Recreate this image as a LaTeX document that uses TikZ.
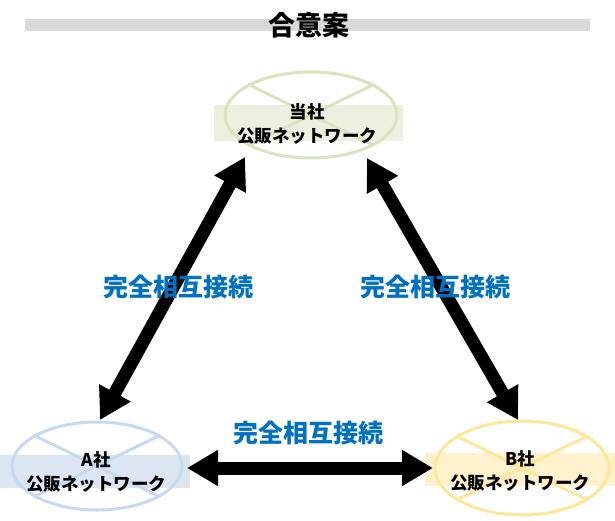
\documentclass[tikz,border=0pt]{standalone}
\usepackage{fontspec}
\setmainfont{Noto Sans CJK JP}
\usetikzlibrary{shapes.geometric,arrows.meta,calc}
\definecolor{titlegray}{HTML}{D9D9D9}
\definecolor{lblblue}{HTML}{0070C0}
\definecolor{grline}{HTML}{D7E4BD}
\definecolor{grband}{HTML}{EBF1DE}
\definecolor{blline}{HTML}{C6D9F1}
\definecolor{blband}{HTML}{DCE6F2}
\definecolor{yeline}{HTML}{FFE699}
\definecolor{yeband}{HTML}{FFF2CC}
\tikzset{
  netell/.style={ellipse, draw, line width=3pt, minimum width=172pt, minimum height=86pt, inner sep=0pt},
  band/.style={rectangle, inner sep=0pt, draw=none},
  nettext/.style={align=center, font=\bfseries\fontsize{17.5}{24}\selectfont, inner sep=0pt},
  lbl/.style={text=lblblue, font=\bfseries\fontsize{25}{27}\selectfont, inner sep=0pt},
  bigarrow/.style={line width=13pt, {Triangle[length=31pt,width=34pt]}-{Triangle[length=31pt,width=34pt]}, shorten <=0pt, shorten >=0pt},
}
\begin{document}
\begin{tikzpicture}[x=1pt,y=-1pt]
\useasboundingbox (0,0) rectangle (615,520);
% title
\fill[titlegray] (25,19) rectangle (590,31);
\node[font=\bfseries\fontsize{27}{29}\selectfont, inner sep=0pt] (title) at (309,25) {合意案};
% bands
\node[band, fill=grband, minimum width=189pt, minimum height=36pt] (Tb) at (308,123) {};
\node[band, fill=blband, minimum width=190pt, minimum height=33pt, anchor=west] (Ab) at (0,471) {};
\node[band, fill=yeband, minimum width=190pt, minimum height=33pt, anchor=west] (Bb) at (425,469) {};
% ellipses
\node[netell, draw=grline] (T) at (311,115) {};
\node[netell, draw=blline, minimum width=170pt, minimum height=88pt] (A) at (97,466) {};
\node[netell, draw=yeline, minimum width=174pt, minimum height=94pt] (B) at (522,468) {};
\foreach \n/\c in {T/grline,A/blline,B/yeline}{
  \draw[\c, line width=3pt] (\n.26) -- (\n.206);
  \draw[\c, line width=3pt] (\n.154) -- (\n.334);
}
% texts
\node[nettext] (Tt) at (307,124) {当社\\公販ネットワーク};
\node[nettext] (At) at (96,472) {A社\\公販ネットワーク};
\node[nettext] (Bt) at (520,471) {B社\\公販ネットワーク};
% arrows
\draw[bigarrow] ($(T.center)+(-66,42)$) -- ($(A.center)+(3,-46)$);
\draw[bigarrow] ($(T.center)+(56,43)$) -- ($(B.center)+(-4,-48)$);
\draw[bigarrow] ($(A.center)+(90,2)$) -- ($(B.center)+(-89,0)$);
% labels
\node[lbl] (L1) at (178,287) {完全相互接続};
\node[lbl] (L2) at (435,287) {完全相互接続};
\node[lbl] (L3) at (308,433) {完全相互接続};
\end{tikzpicture}
\end{document}
